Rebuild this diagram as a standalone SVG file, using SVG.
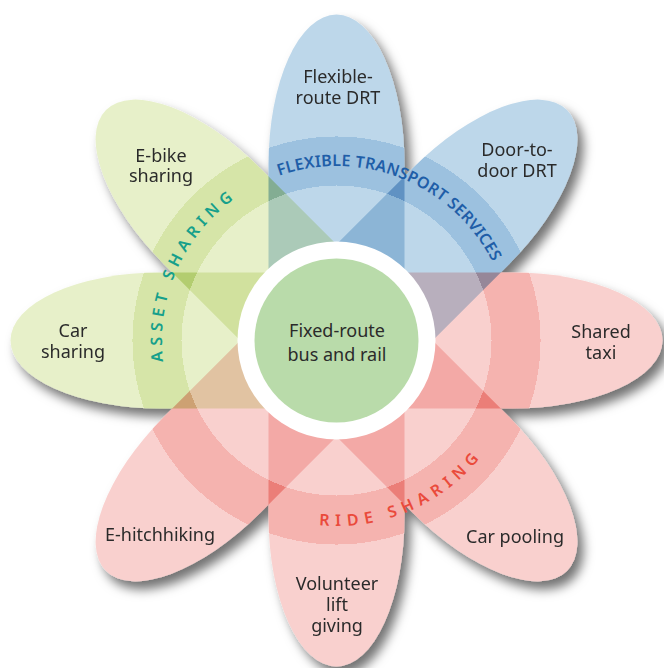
<svg xmlns="http://www.w3.org/2000/svg" width="664" height="668" viewBox="0 0 664 668">
<defs>
  <radialGradient id="gBlue" gradientUnits="userSpaceOnUse" cx="0" cy="0" r="330">
    <stop offset="0" stop-color="#bdd7ea"/><stop offset="0.4697" stop-color="#bdd7ea"/>
    <stop offset="0.4697" stop-color="#9cc1df"/><stop offset="0.6182" stop-color="#9cc1df"/>
    <stop offset="0.6182" stop-color="#bdd7ea"/><stop offset="1" stop-color="#bdd7ea"/>
  </radialGradient>
  <radialGradient id="gRed" gradientUnits="userSpaceOnUse" cx="0" cy="0" r="330">
    <stop offset="0" stop-color="#f9d0ce"/><stop offset="0.4697" stop-color="#f9d0ce"/>
    <stop offset="0.4697" stop-color="#f5b3af"/><stop offset="0.6182" stop-color="#f5b3af"/>
    <stop offset="0.6182" stop-color="#f9d0ce"/><stop offset="1" stop-color="#f9d0ce"/>
  </radialGradient>
  <radialGradient id="gGreen" gradientUnits="userSpaceOnUse" cx="0" cy="0" r="330">
    <stop offset="0" stop-color="#e7f0c9"/><stop offset="0.4697" stop-color="#e7f0c9"/>
    <stop offset="0.4697" stop-color="#d6e5a8"/><stop offset="0.6182" stop-color="#d6e5a8"/>
    <stop offset="0.6182" stop-color="#e7f0c9"/><stop offset="1" stop-color="#e7f0c9"/>
  </radialGradient>
  <path id="petal" d="M 0,-68 H 176 A 150 68 0 0 1 176,68 H 0 Z"/>
  <path id="cw" d="M 336.5,515 A 174.5,174.5 0 0 1 162,340.5 A 174.5,174.5 0 0 1 336.5,166 A 174.5,174.5 0 0 1 511,340.5 A 174.5,174.5 0 0 1 336.5,515"/>
  <path id="ccw" d="M 151,340.5 A 185.5,185.5 0 0 0 336.5,526 A 185.5,185.5 0 0 0 522,340.5 A 185.5,185.5 0 0 0 336.5,155 A 185.5,185.5 0 0 0 151,340.5"/>
  <filter id="shadow" x="-10%" y="-10%" width="130%" height="130%">
    <feDropShadow dx="6" dy="8" stdDeviation="5.5" flood-color="#000" flood-opacity="0.55"/>
  </filter>
</defs>
<style>
  .node { mix-blend-mode: multiply; }
  .lbl { font-family: "Noto Sans", "Open Sans", sans-serif; font-size: 18px; fill: #2b2b2b; text-anchor: middle; }
  .ring { font-family: "Noto Sans", "Open Sans", sans-serif; font-weight: 600; font-size: 16px; text-anchor: middle; }
  .blue { fill: url(#gBlue); }
  .red { fill: url(#gRed); }
  .green { fill: url(#gGreen); }
</style>
<rect width="664" height="668" fill="#ffffff"/>
<g id="flower" filter="url(#shadow)">
  <g id="flexible-route-drt" class="node">
    <use href="#petal" class="blue" transform="translate(336.5,340.5) rotate(-90)"/>
    <text class="lbl" x="338" y="83">Flexible-</text>
    <text class="lbl" x="338" y="104">route DRT</text>
  </g>
  <g id="door-to-door-drt" class="node">
    <use href="#petal" class="blue" transform="translate(336.5,340.5) rotate(-45)"/>
    <text class="lbl" x="517" y="156">Door-to-</text>
    <text class="lbl" x="517" y="177">door DRT</text>
  </g>
  <g id="shared-taxi" class="node">
    <use href="#petal" class="red" transform="translate(336.5,340.5) rotate(0)"/>
    <text class="lbl" x="601" y="338">Shared</text>
    <text class="lbl" x="601" y="359">taxi</text>
  </g>
  <g id="car-pooling" class="node">
    <use href="#petal" class="red" transform="translate(336.5,340.5) rotate(45)"/>
    <text class="lbl" x="515" y="543">Car pooling</text>
  </g>
  <g id="volunteer-lift-giving" class="node">
    <use href="#petal" class="red" transform="translate(336.5,340.5) rotate(90)"/>
    <text class="lbl" x="337" y="590">Volunteer</text>
    <text class="lbl" x="337" y="611">lift</text>
    <text class="lbl" x="337" y="632">giving</text>
  </g>
  <g id="e-hitchhiking" class="node">
    <use href="#petal" class="red" transform="translate(336.5,340.5) rotate(135)"/>
    <text class="lbl" x="160" y="541">E-hitchhiking</text>
  </g>
  <g id="car-sharing" class="node">
    <use href="#petal" class="green" transform="translate(336.5,340.5) rotate(180)"/>
    <text class="lbl" x="73" y="337">Car</text>
    <text class="lbl" x="73" y="358">sharing</text>
  </g>
  <g id="e-bike-sharing" class="node">
    <use href="#petal" class="green" transform="translate(336.5,340.5) rotate(225)"/>
    <text class="lbl" x="161" y="162">E-bike</text>
    <text class="lbl" x="161" y="182">sharing</text>
  </g>
</g>
<g id="ring-labels">
  <text class="ring" letter-spacing="0.25" fill="#1f5ea8"><textPath href="#cw" startOffset="615">FLEXIBLE TRANSPORT SERVICES</textPath></text>
  <text class="ring" letter-spacing="5.2" fill="#16a08b"><textPath href="#cw" startOffset="348">ASSET SHARING</textPath></text>
  <text class="ring" letter-spacing="6.1" fill="#ea4a3b"><textPath href="#ccw" startOffset="367">RIDE SHARING</textPath></text>
</g>
<g id="fixed-route-bus-and-rail">
  <circle cx="336.5" cy="340.5" r="99" fill="#ffffff"/>
  <circle cx="336.5" cy="340.5" r="82" fill="#b9dbaa"/>
  <text class="lbl" x="337" y="337">Fixed-route</text>
  <text class="lbl" x="337" y="361">bus and rail</text>
</g>
</svg>
